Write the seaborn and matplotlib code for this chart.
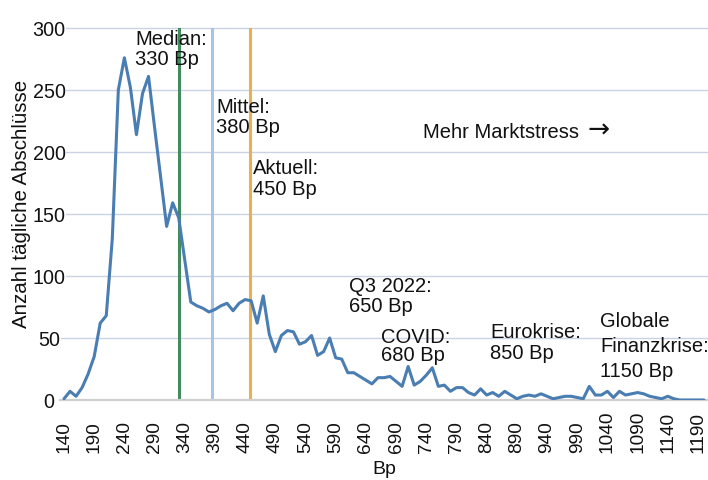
import matplotlib
matplotlib.use("Agg")
import matplotlib.pyplot as plt
import matplotlib.transforms as mtransforms
import pandas as pd
import seaborn as sns

# ---- data ----
bp = [140, 150, 160, 170, 180, 190, 200, 210, 220, 230,
      240, 250, 260, 270, 280, 290, 300, 310, 320, 330,
      340, 350, 360, 370, 380, 390, 400, 410, 420, 430,
      440, 450, 460, 470, 480, 490, 500, 510, 520, 530,
      540, 550, 560, 570, 580, 590, 600, 610, 620, 630,
      640, 650, 660, 670, 680, 690, 700, 710, 720, 730,
      740, 750, 760, 770, 780, 790, 800, 810, 820, 830,
      840, 850, 860, 870, 880, 890, 900, 910, 920, 930,
      940, 950, 960, 970, 980, 990, 1000, 1010, 1020, 1030,
      1040, 1050, 1060, 1070, 1080, 1090, 1100, 1110, 1120, 1130,
      1140, 1150, 1160, 1170, 1180, 1190, 1200]
counts = [1, 7, 3, 10, 21, 35, 62, 68, 130, 250,
          276, 252, 214, 247, 261, 220, 180, 140, 159, 147,
          113, 79, 76, 74, 71, 73, 76, 78, 72, 78,
          81, 80, 62, 84, 53, 39, 52, 56, 55, 45,
          47, 52, 36, 39, 50, 34, 33, 22, 22, 19,
          16, 13, 18, 18, 19, 15, 11, 27, 12, 15,
          20, 26, 11, 12, 7, 10, 10, 6, 4, 9,
          4, 6, 3, 7, 4, 1, 3, 4, 3, 5,
          3, 1, 2, 3, 3, 2, 1, 11, 4, 4,
          7, 2, 7, 4, 5, 6, 5, 3, 2, 1,
          3, 1, 0, 0, 0, 0, 0]
xtick_vals = [140, 190, 240, 290, 340, 390, 440, 490, 540, 590, 640,
              690, 740, 790, 840, 890, 940, 990, 1040, 1090, 1140, 1190]
ytick_vals = [0, 50, 100, 150, 200, 250, 300]
marker_vals = [330, 385, 448]
marker_colors = ["#418b5c", "#a7c4e1", "#eab04b"]

annotations = [
    (["Median:", "330 Bp"], 135, [45, 65]),
    (["Mittel:", "380 Bp"], 216, [113, 133]),
    (["Aktuell:", "450 Bp"], 253, [174, 195]),
    (["Mehr Marktstress"], 423, [138]),
    (["Q3 2022:", "650 Bp"], 349, [292, 312]),
    (["COVID:", "680 Bp"], 381, [343, 361]),
    (["Eurokrise:", "850 Bp"], 490, [338, 359]),
    (["Globale", "Finanzkrise:", "1150 Bp"], 600, [327, 352, 377]),
]

df = pd.DataFrame({"Bp": bp, "Anzahl": counts})

sns.set_theme(style="white")
plt.rcParams["font.family"] = ["Liberation Sans", "DejaVu Sans"]

W, H = 708, 480
fig = plt.figure(figsize=(W / 100, H / 100), dpi=100)
ax_l, ax_r, ax_t, ax_b = 60, 708, 28, 400
ax = fig.add_axes([ax_l / W, 1 - ax_b / H, (ax_r - ax_l) / W, (ax_b - ax_t) / H])

xmin, xmax = 133.4, 1206.6
ymin, ymax = 0, 300
ax.set_xlim(xmin, xmax)
ax.set_ylim(ymin, ymax)

# grid
for yv in ytick_vals[1:]:
    ax.axhline(yv, color="#c9d3e3", lw=1.0, zorder=0, clip_on=False)

sns.lineplot(data=df, x="Bp", y="Anzahl", ax=ax, color="#4a7db2", lw=2.2, zorder=3)

for v, c in zip(marker_vals, marker_colors):
    ax.axvline(v, color=c, lw=2.2, zorder=2)

for s in ["top", "right", "left"]:
    ax.spines[s].set_visible(False)
ax.spines["bottom"].set_color("#cfcfcf")
ax.spines["bottom"].set_linewidth(1.6)

ax.set_yticks(ytick_vals)
ax.set_yticklabels([str(v) for v in ytick_vals], fontsize=14.2, color="#111111")
ax.tick_params(axis="y", length=0, pad=7.9)
for lbl in ax.get_yticklabels():
    lbl.set_ha("center")
    lbl.set_bbox(dict(facecolor="white", edgecolor="none", pad=0.5))

ax.set_xticks(xtick_vals)
ax.set_xticklabels([])
ax.tick_params(axis="x", length=0)
trans = mtransforms.blended_transform_factory(ax.transData, ax.transAxes)
lab_bottom = -(453 - ax_b) / (ax_b - ax_t)
for v in xtick_vals:
    ax.text(v, lab_bottom, str(v), transform=trans, rotation=90,
            ha="center", va="bottom", fontsize=13.8, color="#111111")

ax.set_xlabel("")
ax.set_ylabel("")
ax.text(0.5, -(469 - ax_b) / (ax_b - ax_t), "Bp", transform=ax.transAxes,
        ha="center", va="center", fontsize=14, color="#111111")
fig.text(22 / W, 1 - 204 / H, "Anzahl tägliche Abschlüsse", rotation=90,
         ha="center", va="center", fontsize=14.8, color="#111111")


def px2data(px, py):
    xd = xmin + (px - ax_l) / (ax_r - ax_l) * (xmax - xmin)
    yd = ymax - (py - ax_t) / (ax_b - ax_t) * (ymax - ymin)
    return xd, yd


for lines, px, baselines in annotations:
    for txt, by in zip(lines, baselines):
        xd, yd = px2data(px, by)
        ax.text(xd, yd, txt, ha="left", va="baseline", fontsize=14.5,
                color="#111111", zorder=5)

# arrow after "Mehr Marktstress"
xd, yd = px2data(588, 138)
ax.text(xd, yd, "\u2192", ha="left", va="baseline", fontsize=19,
        family=["DejaVu Sans"], color="#111111", zorder=5)

fig.savefig("out.png", dpi=100)
